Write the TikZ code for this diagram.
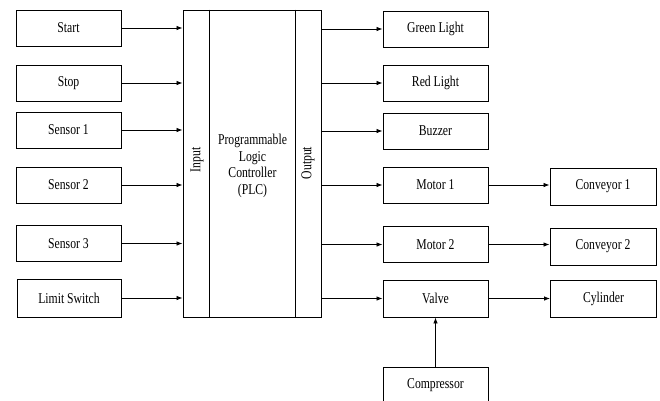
\documentclass[tikz,border=0pt]{standalone}
\usepackage{fontspec}
\setmainfont{Liberation Serif}[FakeStretch=0.78]
\usetikzlibrary{arrows.meta, positioning}

\tikzset{
    blk/.style={draw, line width=0.9pt, minimum width=105pt, minimum height=36pt, inner sep=0pt, font=\fontsize{15}{16}\selectfont},
    arr/.style={-{Latex[length=6pt, width=4.5pt]}, line width=0.8pt}
}

\begin{document}
\begin{tikzpicture}[x=1pt, y=-1pt]
    \useasboundingbox (0,0) rectangle (660,400);

    % Input devices
    \node[blk] (start)  at (68.5, 28)    {Start};
    \node[blk] (stop)   at (68.5, 83)    {Stop};
    \node[blk] (sens1)  at (68.5, 130)   {Sensor 1};
    \node[blk] (sens2)  at (68.5, 185)   {Sensor 2};
    \node[blk] (sens3)  at (68.5, 243.5) {Sensor 3};
    \node[blk, minimum width=104pt, minimum height=38pt] (limit) at (69, 298) {Limit Switch};

    % PLC block
    \node[draw, line width=0.9pt, minimum width=138pt, minimum height=307pt] (plc) at (252, 163.5) {};
    \draw[line width=0.9pt] ([xshift=27pt]plc.north west) -- ([xshift=27pt]plc.south west);
    \draw[line width=0.9pt] ([xshift=-26pt]plc.north east) -- ([xshift=-26pt]plc.south east);
    \node[rotate=90, font=\fontsize{15}{16}\selectfont] (inlbl) at (197, 160) {Input};
    \node[rotate=90, font=\fontsize{15}{16}\selectfont] (outlbl) at (308, 163) {Output};
    \node[align=center, font=\fontsize{15}{16.5}\selectfont] (plctxt) at (252.5, 166) {Programmable\\Logic\\Controller\\(PLC)};

    % Output devices
    \node[blk] (green)  at (435.5, 29)    {Green Light};
    \node[blk] (red)    at (435.5, 83)    {Red Light};
    \node[blk] (buzz)   at (435.5, 131)   {Buzzer};
    \node[blk] (mot1)   at (435.5, 185)   {Motor 1};
    \node[blk] (mot2)   at (435.5, 244.5) {Motor 2};
    \node[blk, minimum height=37pt] (valve) at (435.5, 298.5) {Valve};
    \node[blk] (comp)   at (435.5, 385)   {Compressor};

    % Actuators
    \node[blk, minimum width=106pt, minimum height=37pt] (conv1) at (603, 186.5) {Conveyor 1};
    \node[blk, minimum width=106pt, minimum height=37pt] (conv2) at (603, 246.5) {Conveyor 2};
    \node[blk, minimum width=106pt, minimum height=37pt] (cyl)   at (603.5, 298.5) {Cylinder};

    % Inputs into PLC
    \foreach \src in {start, stop, sens1, sens2, sens3, limit} {
        \draw[arr] (\src.east) -- (\src.east -| plc.west);
    }

    % PLC to outputs
    \foreach \dst in {green, red, buzz, mot1, mot2, valve} {
        \draw[arr] (\dst.west -| plc.east) -- (\dst.west);
    }

    % Drives
    \draw[arr] (mot1.east) -- (conv1.west |- mot1.east);
    \draw[arr] (mot2.east) -- (conv2.west |- mot2.east);
    \draw[arr] (valve.east) -- (cyl.west |- valve.east);
    \draw[arr] (comp.north) -- (valve.south);
\end{tikzpicture}
\end{document}
